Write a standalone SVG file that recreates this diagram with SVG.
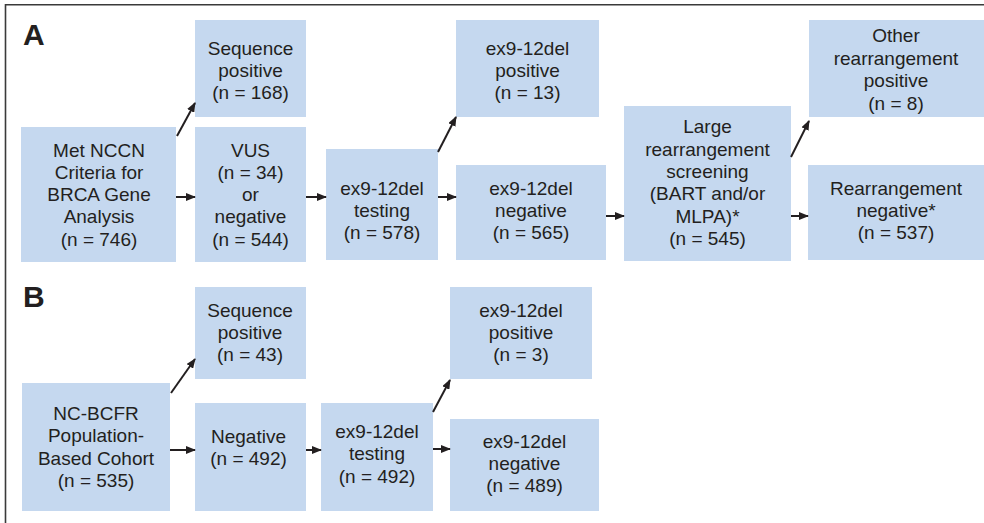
<svg xmlns="http://www.w3.org/2000/svg" width="984" height="523" viewBox="0 0 984 523">
  <defs>
    <marker id="arrow" markerUnits="userSpaceOnUse" markerWidth="10" markerHeight="8" refX="9" refY="4" orient="auto">
      <path d="M0,0 L10,4 L0,8 z" fill="#231f20"/>
    </marker>
  </defs>
  <style>
    .box { fill: #c5d8ef; }
    .lbl { font-family: "Liberation Sans", Arial, sans-serif; font-size: 19px; fill: #231f20; text-anchor: middle; }
    .panel { font-family: "Liberation Sans", Arial, sans-serif; font-size: 30px; font-weight: bold; fill: #231f20; }
    .edge { stroke: #231f20; stroke-width: 2; fill: none; marker-end: url(#arrow); }
    .frame { stroke: #3a3a3a; stroke-width: 1.6; fill: none; }
  </style>

  <rect width="984" height="523" fill="#ffffff"/>
  <path class="frame" d="M5.5,523 V4.8 H984"/>

  <text class="panel" x="23" y="45">A</text>
  <text class="panel" x="23" y="307">B</text>

  <!-- Panel A -->
  <g id="a-nccn">
    <rect class="box" x="21" y="127" width="155" height="135"/>
    <text class="lbl"><tspan x="99" y="157">Met NCCN</tspan><tspan x="99" y="179">Criteria for</tspan><tspan x="99" y="201">BRCA Gene</tspan><tspan x="99" y="223">Analysis</tspan><tspan x="99" y="246">(n = 746)</tspan></text>
  </g>
  <g id="a-seqpos">
    <rect class="box" x="195" y="20" width="111" height="97"/>
    <text class="lbl"><tspan x="250.5" y="55">Sequence</tspan><tspan x="250.5" y="77">positive</tspan><tspan x="250.5" y="99">(n = 168)</tspan></text>
  </g>
  <g id="a-vus">
    <rect class="box" x="195" y="127" width="111" height="135"/>
    <text class="lbl"><tspan x="250.5" y="157">VUS</tspan><tspan x="250.5" y="179">(n = 34)</tspan><tspan x="250.5" y="201">or</tspan><tspan x="250.5" y="223">negative</tspan><tspan x="250.5" y="246">(n = 544)</tspan></text>
  </g>
  <g id="a-testing">
    <rect class="box" x="326" y="149" width="112" height="111"/>
    <text class="lbl"><tspan x="382" y="195">ex9-12del</tspan><tspan x="382" y="217">testing</tspan><tspan x="382" y="239">(n = 578)</tspan></text>
  </g>
  <g id="a-delpos">
    <rect class="box" x="456" y="20" width="143" height="97"/>
    <text class="lbl"><tspan x="527.5" y="55">ex9-12del</tspan><tspan x="527.5" y="77">positive</tspan><tspan x="527.5" y="99">(n = 13)</tspan></text>
  </g>
  <g id="a-delneg">
    <rect class="box" x="456" y="165" width="150" height="95"/>
    <text class="lbl"><tspan x="531" y="195">ex9-12del</tspan><tspan x="531" y="217">negative</tspan><tspan x="531" y="239">(n = 565)</tspan></text>
  </g>
  <g id="a-large">
    <rect class="box" x="624" y="106" width="167" height="155"/>
    <text class="lbl"><tspan x="707.5" y="133">Large</tspan><tspan x="707.5" y="156">rearrangement</tspan><tspan x="707.5" y="178">screening</tspan><tspan x="707.5" y="200">(BART and/or</tspan><tspan x="707.5" y="223">MLPA)*</tspan><tspan x="707.5" y="245">(n = 545)</tspan></text>
  </g>
  <g id="a-otherpos">
    <rect class="box" x="809" y="20" width="175" height="97"/>
    <text class="lbl"><tspan x="896" y="42">Other</tspan><tspan x="896" y="65">rearrangement</tspan><tspan x="896" y="87">positive</tspan><tspan x="896" y="110">(n = 8)</tspan></text>
  </g>
  <g id="a-rearrneg">
    <rect class="box" x="808" y="165" width="176" height="95"/>
    <text class="lbl"><tspan x="896" y="195">Rearrangement</tspan><tspan x="896" y="217">negative*</tspan><tspan x="896" y="239">(n = 537)</tspan></text>
  </g>

  <!-- Panel B -->
  <g id="b-cohort">
    <rect class="box" x="22" y="383" width="148" height="128"/>
    <text class="lbl"><tspan x="96" y="420">NC-BCFR</tspan><tspan x="96" y="442">Population-</tspan><tspan x="96" y="465">Based Cohort</tspan><tspan x="96" y="487">(n = 535)</tspan></text>
  </g>
  <g id="b-seqpos">
    <rect class="box" x="195" y="287" width="111" height="92"/>
    <text class="lbl"><tspan x="250" y="317">Sequence</tspan><tspan x="250" y="339">positive</tspan><tspan x="250" y="361">(n = 43)</tspan></text>
  </g>
  <g id="b-negative">
    <rect class="box" x="195" y="403" width="111" height="108"/>
    <text class="lbl"><tspan x="248.5" y="443">Negative</tspan><tspan x="248.5" y="465">(n = 492)</tspan></text>
  </g>
  <g id="b-testing">
    <rect class="box" x="321" y="403" width="112" height="108"/>
    <text class="lbl"><tspan x="377" y="438">ex9-12del</tspan><tspan x="377" y="460">testing</tspan><tspan x="377" y="483">(n = 492)</tspan></text>
  </g>
  <g id="b-delpos">
    <rect class="box" x="450" y="287" width="142" height="92"/>
    <text class="lbl"><tspan x="521" y="317">ex9-12del</tspan><tspan x="521" y="339">positive</tspan><tspan x="521" y="361">(n = 3)</tspan></text>
  </g>
  <g id="b-delneg">
    <rect class="box" x="450" y="419" width="149" height="92"/>
    <text class="lbl"><tspan x="524.5" y="448">ex9-12del</tspan><tspan x="524.5" y="470">negative</tspan><tspan x="524.5" y="492">(n = 489)</tspan></text>
  </g>

  <g id="connectors">
    <!-- Panel A -->
    <line class="edge" x1="177" y1="136" x2="195" y2="103"/>
    <line class="edge" x1="176" y1="197" x2="195" y2="197"/>
    <line class="edge" x1="306" y1="197" x2="326" y2="197"/>
    <line class="edge" x1="438" y1="152" x2="456" y2="117"/>
    <line class="edge" x1="438" y1="197" x2="456" y2="197"/>
    <line class="edge" x1="606" y1="216" x2="624" y2="216"/>
    <line class="edge" x1="791" y1="157" x2="809" y2="121"/>
    <line class="edge" x1="791" y1="216" x2="808" y2="216"/>
    <!-- Panel B -->
    <line class="edge" x1="171" y1="393" x2="195" y2="359"/>
    <line class="edge" x1="170" y1="450" x2="195" y2="450"/>
    <line class="edge" x1="306" y1="450" x2="321" y2="450"/>
    <line class="edge" x1="433" y1="412" x2="450" y2="380"/>
    <line class="edge" x1="433" y1="449" x2="450" y2="449"/>
  </g>
</svg>
